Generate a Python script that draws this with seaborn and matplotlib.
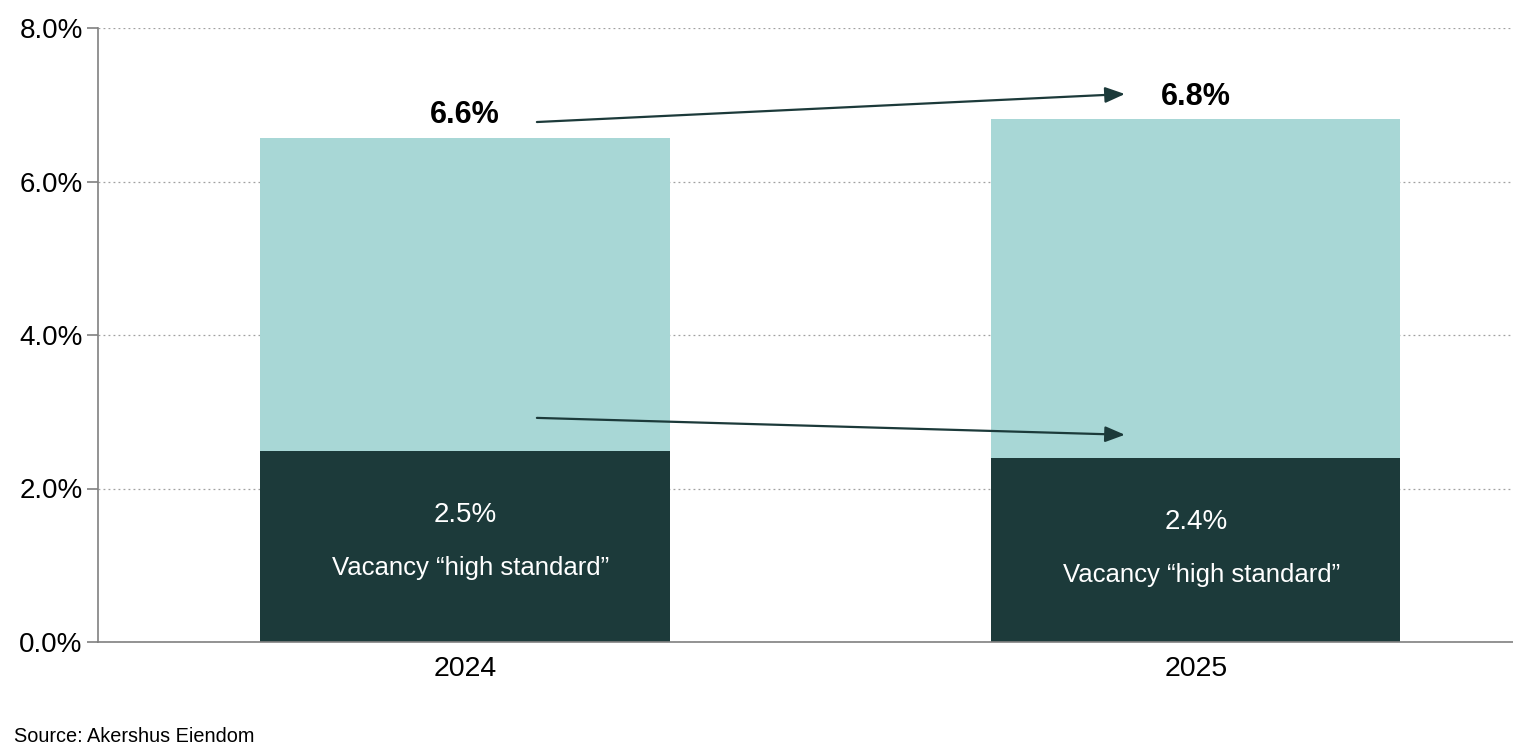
import matplotlib
matplotlib.use("Agg")
import matplotlib.pyplot as plt
import seaborn as sns
import pandas as pd
from matplotlib.ticker import FuncFormatter

years = ["2024", "2025"]
total_vacancy = [6.57, 6.81]
high_standard = [2.49, 2.40]
total_labels = ["6.6%", "6.8%"]
high_labels = ["2.5%", "2.4%"]
segment_label = "Vacancy \u201chigh standard\u201d"
source = "Source: Akershus Eiendom"

LIGHT = "#a8d7d6"
DARK = "#1c3a3a"

sns.set_theme(style="white")
plt.rcParams["font.family"] = ["Liberation Sans", "DejaVu Sans"]

fig = plt.figure(figsize=(15.13, 7.47), dpi=100)
ax = fig.add_axes([98/1513, 1-642/747, (1513-98)/1513, (642-28)/747])

df = pd.DataFrame({"year": years, "total": total_vacancy, "high": high_standard})
sns.barplot(data=df, x="year", y="total", color=LIGHT, width=0.56, ax=ax, saturation=1,
            linewidth=0, edgecolor="none")
sns.barplot(data=df, x="year", y="high", color=DARK, width=0.56, ax=ax, saturation=1,
            linewidth=0, edgecolor="none")

ax.set_xlim(-0.502, 1.434)
ax.set_ylim(0, 8)
ax.set_yticks([0, 2, 4, 6, 8])
ax.yaxis.set_major_formatter(FuncFormatter(lambda v, p: f"{v:.1f}%"))
ax.set_xlabel("")
ax.set_ylabel("")
ax.grid(axis="y", linestyle=(0, (1.5, 2.5)), color="#a0a0a0", linewidth=0.9)
ax.set_axisbelow(True)
for s in ["top", "right"]:
    ax.spines[s].set_visible(False)
for s in ["left", "bottom"]:
    ax.spines[s].set_color("#808080")
    ax.spines[s].set_linewidth(1.2)
ax.tick_params(axis="y", which="both", left=True, length=8, width=1.2, color="#808080",
               labelsize=20, pad=3, labelcolor="black")
ax.tick_params(axis="x", bottom=False, labelsize=20.5, pad=4, labelcolor="black")

for i in range(len(years)):
    ax.text(i, total_vacancy[i] + 0.1, total_labels[i], ha="center", va="bottom",
            fontsize=22, fontweight="bold", color="black")
    ax.text(i, high_standard[i] - 0.83, high_labels[i], ha="center", va="center",
            fontsize=20, color="white")
    ax.text(i + 0.008, high_standard[i] - 1.53, segment_label, ha="center", va="center",
            fontsize=18.5, color="white")

arrow_kw = dict(arrowstyle="-|>,head_length=1.0,head_width=0.4", color=DARK, lw=1.6,
                shrinkA=0, shrinkB=0)
ax.annotate("", xy=(0.903, 7.14), xytext=(0.0985, 6.775), arrowprops=arrow_kw)
ax.annotate("", xy=(0.903, 2.70), xytext=(0.0985, 2.92), arrowprops=arrow_kw)

fig.text(14/1513, 1-737/747, source, ha="left", va="center", fontsize=14.3, color="black")

fig.savefig("out.png", dpi=100)
